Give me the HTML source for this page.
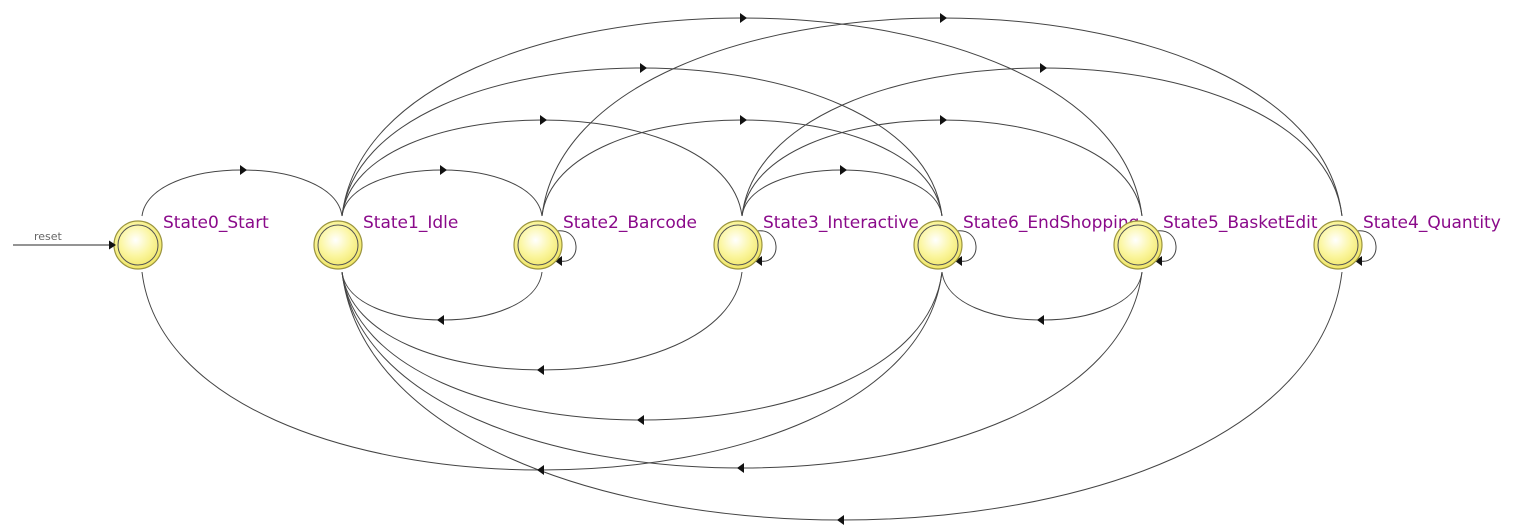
<!DOCTYPE html>
<html><head><meta charset="utf-8"><style>
html,body{margin:0;padding:0;background:#fff;}
svg{display:block;}
text.l{font-family:"DejaVu Sans","Liberation Sans",sans-serif;font-size:17px;fill:#8a0a8a;}
</style></head><body>
<svg width="1536" height="531" viewBox="0 0 1536 531" xmlns="http://www.w3.org/2000/svg">
<defs>
<radialGradient id="g" cx="45%" cy="40%" r="60%">
<stop offset="0" stop-color="#ffffff"/><stop offset="0.55" stop-color="#fbf6a0"/><stop offset="1" stop-color="#f0e666"/>
</radialGradient>
</defs>
<g fill="none" stroke="#444" stroke-width="1" id="arcs"></g>
<g id="arr" fill="#111"></g>
<g id="nodes"></g>
<line x1="13" y1="245" x2="110" y2="245" stroke="#555" stroke-width="1.3"/>
<polygon points="116,245 109,240.5 109,249.5" fill="#111"/>
<text x="34" y="240" font-family="DejaVu Sans,Liberation Sans,sans-serif" font-size="11" fill="#666">reset</text>
</svg>
<script>
var NS="http://www.w3.org/2000/svg";
var xs=[142,342,542,742,942,1142,1342];
var names=["State0_Start","State1_Idle","State2_Barcode","State3_Interactive","State6_EndShopping","State5_BasketEdit","State4_Quantity"];
var arcs=document.getElementById("arcs"),arr=document.getElementById("arr"),nodes=document.getElementById("nodes");
function el(t,a,p){var e=document.createElementNS(NS,t);for(var k in a)e.setAttribute(k,a[k]);p.appendChild(e);return e;}
function arc(a,b,peak,top){
 var x1=xs[a],x2=xs[b],y0=top?216:272,w=Math.abs(x2-x1),h=Math.abs(peak-y0);
 var c=top?y0-h/0.75:y0+h/0.75,d=0.04*w*(x2>x1?1:-1);
 el("path",{d:"M"+x1+" "+y0+" C"+(x1+d)+" "+c+" "+(x2-d)+" "+c+" "+x2+" "+y0},arcs);
 var mx=(x1+x2)/2;
 if(top) el("polygon",{points:(mx+5)+","+peak+" "+(mx-2)+","+(peak-5)+" "+(mx-2)+","+(peak+5)},arr);
 else el("polygon",{points:(mx-5)+","+peak+" "+(mx+2)+","+(peak-5)+" "+(mx+2)+","+(peak+5)},arr);
}
arc(0,1,170,1);arc(1,2,170,1);arc(1,3,120,1);arc(1,4,68,1);arc(1,5,18,1);
arc(2,4,120,1);arc(2,6,18,1);arc(3,4,170,1);arc(3,5,120,1);arc(3,6,68,1);
arc(2,1,320,0);arc(3,1,370,0);arc(4,1,420,0);arc(4,0,470,0);arc(5,1,468,0);arc(5,4,320,0);arc(6,1,520,0);
for(var i=0;i<7;i++){
 var x=xs[i]-4,y=245;
 if(i>=2){
  el("path",{d:"M"+(x+18)+" "+(y-14)+" C"+(x+44)+" "+(y-18)+" "+(x+44)+" "+(y+20)+" "+(x+22)+" "+(y+16)},arcs);
  el("polygon",{points:(x+17)+","+(y+16)+" "+(x+24)+","+(y+11)+" "+(x+24)+","+(y+21)},arr);
 }
 el("circle",{cx:x,cy:y,r:24,fill:"url(#g)",stroke:"#9a9440","stroke-width":"1.2"},nodes);
 el("circle",{cx:x,cy:y,r:20,fill:"none",stroke:"#555","stroke-width":"1"},nodes);
 var t=el("text",{x:x+25,y:228,"class":"l"},nodes);t.textContent=names[i];
}
</script>
</body></html>
